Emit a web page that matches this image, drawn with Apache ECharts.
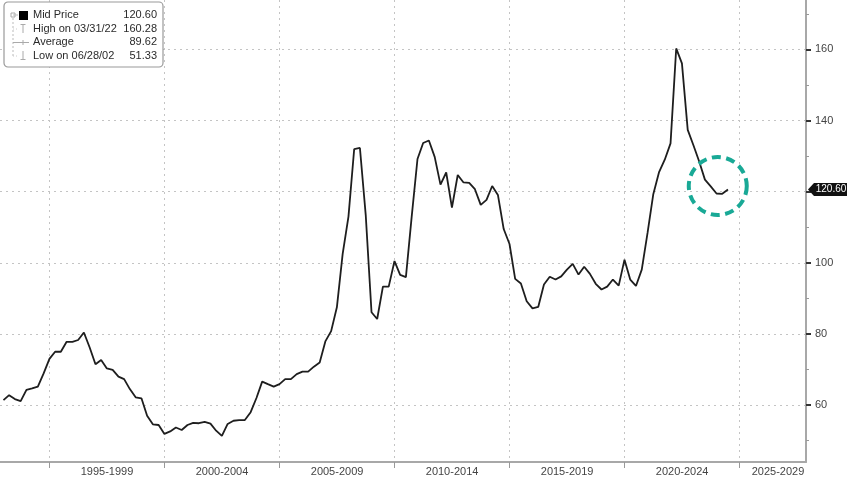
<!DOCTYPE html>
<html><head><meta charset="utf-8">
<script src="https://cdn.jsdelivr.net/npm/echarts@6/dist/echarts.min.js"></script>
<style>html,body{margin:0;padding:0;background:#fff}#c{width:848px;height:478px}</style>
</head><body><div id="c"></div>
<script>
// ---- data ----
// quarterly mid price, first point = quarter ending 1992-12-31
const firstYear = 1992, firstQuarter = 4;
const quarterEnds = [[3,31],[6,30],[9,30],[12,31]];
const midPrice = [
  61.4,62.8,61.7,61.1,64.3,64.7,65.2,68.9,73.0,75.0,
  75.0,77.8,77.8,78.3,80.4,76.2,71.5,72.7,70.3,69.9,
  68.0,67.3,64.5,62.2,61.9,57.0,54.6,54.4,51.9,52.6,
  53.7,53.0,54.4,55.0,54.9,55.3,54.8,52.8,51.33,54.7,
  55.6,55.8,55.8,58.0,62.0,66.6,65.9,65.2,65.9,67.3,
  67.3,68.7,69.4,69.4,70.8,72.0,78.0,80.8,87.5,102.5,
  113.0,132.0,132.3,113.5,86.1,84.2,93.3,93.3,100.5,96.6,
  96.0,113.0,129.2,133.7,134.4,129.8,122.0,125.4,115.5,124.7,
  122.6,122.5,120.7,116.3,117.7,121.6,119.1,109.5,105.3,95.5,
  94.2,89.2,87.2,87.6,93.9,96.1,95.3,96.2,98.1,99.7,
  96.7,98.9,96.9,94.1,92.5,93.3,95.3,93.6,100.9,95.3,
  93.5,98.1,108.4,119.2,125.4,129.0,133.6,160.28,156.1,137.4,
  133.0,128.5,123.4,121.5,119.5,119.4,120.6
];
const periodStarts = [1995,2000,2005,2010,2015,2020,2025];
const yTicks = [60,80,100,120,140,160];
const yMinorTicks = [50,70,90,110,130,150,170];
const legendNames = ['Mid Price','High on 03/31/22','Average','Low on 06/28/02'];
const legendValues = ['120.60','160.28','89.62','51.33'];
const lastLabel = '120.60';
const highlightCenter = ['2024-01-20', 121.6];

// ---- build ----
const data = midPrice.map((v, i) => {
  const k = (firstQuarter - 1) + i;
  const y = firstYear + Math.floor(k / 4);
  const q = quarterEnds[k % 4];
  return [Date.UTC(y, q[0] - 1, q[1]), v];
});
const T = y => Date.UTC(y, 0, 1);
const msPerPx = (T(2000) - T(1995)) / 115;
const xMin = T(1995) - 49.5 * msPerPx;
const xMax = xMin + 806 * msPerPx;
const tickVals = periodStarts.map(T);
const labelVals = periodStarts.map(s => Math.min((T(s) + T(s + 5)) / 2, xMax - 28 * msPerPx));
const fontFam = "'Liberation Sans', Arial, sans-serif";
const yearOf = v => { const d = new Date(v); return d.getUTCFullYear() + d.getUTCMonth() / 12; };
const Y_MIN = 44.0, Y_MAX = 173.9;

const chart = echarts.init(document.getElementById('c'), null, {renderer: 'canvas'});
chart.setOption({
  backgroundColor: '#fff',
  animation: false,
  grid: {left: 0, right: 42, top: 0, bottom: 16, containLabel: false},
  xAxis: {
    type: 'value', min: xMin, max: xMax,
    axisLine: {show: true, lineStyle: {color: '#a8a8a8', width: 2}},
    axisTick: {show: true, customValues: tickVals, length: 6, lineStyle: {color: '#999'}},
    axisLabel: {
      customValues: labelVals, color: '#444', fontSize: 11, fontFamily: fontFam, margin: 4,
      formatter: v => { const y = yearOf(v); const s = periodStarts.filter(p => p <= y).pop(); return s + '-' + (s + 4); }
    },
    splitLine: {show: true, lineStyle: {color: '#c4c4c4', width: 1, type: [2, 4]}}
  },
  yAxis: [{
    type: 'value', position: 'right', min: Y_MIN, max: Y_MAX,
    axisLine: {show: true, lineStyle: {color: '#a8a8a8', width: 2}},
    axisTick: {show: true, customValues: yTicks, length: 5, lineStyle: {color: '#333', width: 2}},
    axisLabel: {customValues: yTicks, color: '#444', fontSize: 11, fontFamily: fontFam, margin: 9},
    splitLine: {show: true, lineStyle: {color: '#c4c4c4', width: 1, type: [2, 4]}}
  }, {
    type: 'value', position: 'right', min: Y_MIN, max: Y_MAX,
    axisLine: {show: false},
    axisTick: {show: true, customValues: yMinorTicks, length: 3, lineStyle: {color: '#999', width: 1}},
    axisLabel: {show: false},
    splitLine: {show: false}
  }],
  series: [{
    type: 'line', data: data, showSymbol: false, z: 3,
    lineStyle: {color: '#1e1e1e', width: 1.8}
  }]
});

// ---- annotations ----
const lastY = chart.convertToPixel({yAxisIndex: 0}, midPrice[midPrice.length - 1]);
const c = chart.convertToPixel({seriesIndex: 0}, [new Date(highlightCenter[0] + 'T00:00:00Z').getTime(), highlightCenter[1]]);
const rowY = [15, 28.5, 42, 55.5];
const legendEls = [
  {type: 'rect', shape: {x: 4, y: 2, width: 159, height: 65, r: 4}, style: {fill: '#fff', stroke: '#9a9a9a', lineWidth: 1.2}},
  {type: 'rect', shape: {x: 11, y: 13, width: 4, height: 4}, style: {fill: '#fff', stroke: '#aaa', lineWidth: 1}},
  {type: 'line', shape: {x1: 13, y1: 18, x2: 13, y2: 57}, style: {stroke: '#bbb', lineWidth: 1, lineDash: [2, 2]}},
  {type: 'line', shape: {x1: 13, y1: 15, x2: 18, y2: 15}, style: {stroke: '#bbb', lineWidth: 1}},
  {type: 'rect', shape: {x: 19, y: 11, width: 9, height: 9}, style: {fill: '#000'}},
  {type: 'line', shape: {x1: 13, y1: 29, x2: 18, y2: 29}, style: {stroke: '#ccc', lineWidth: 1, lineDash: [1, 2]}},
  {type: 'line', shape: {x1: 20.5, y1: 24.5, x2: 25.5, y2: 24.5}, style: {stroke: '#aaa', lineWidth: 1}},
  {type: 'line', shape: {x1: 23, y1: 24.5, x2: 23, y2: 33}, style: {stroke: '#aaa', lineWidth: 1}},
  {type: 'line', shape: {x1: 13, y1: 42.5, x2: 29, y2: 42.5}, style: {stroke: '#aaa', lineWidth: 1}},
  {type: 'line', shape: {x1: 23, y1: 40, x2: 23, y2: 45}, style: {stroke: '#aaa', lineWidth: 1}},
  {type: 'line', shape: {x1: 13, y1: 56, x2: 18, y2: 56}, style: {stroke: '#ccc', lineWidth: 1, lineDash: [1, 2]}},
  {type: 'line', shape: {x1: 23, y1: 51, x2: 23, y2: 59.5}, style: {stroke: '#aaa', lineWidth: 1}},
  {type: 'line', shape: {x1: 20.5, y1: 59.5, x2: 25.5, y2: 59.5}, style: {stroke: '#aaa', lineWidth: 1}}
];
legendNames.forEach((n, i) => {
  legendEls.push({type: 'text', x: 33, y: rowY[i], style: {text: n, fill: '#2a2a2a', font: '11px ' + fontFam, textVerticalAlign: 'middle', textAlign: 'left'}});
  legendEls.push({type: 'text', x: 157, y: rowY[i], style: {text: legendValues[i], fill: '#2a2a2a', font: '11px ' + fontFam, textVerticalAlign: 'middle', textAlign: 'right'}});
});

chart.setOption({
  graphic: [
    {type: 'group', z: 100, children: legendEls},
    {type: 'circle', z: 90, shape: {cx: c[0], cy: c[1], r: 29}, style: {fill: 'none', stroke: '#19a996', lineWidth: 4, lineDash: [9, 5.5]}},
    {type: 'polygon', z: 95, shape: {points: [[808, lastY], [814, lastY - 6.5], [847, lastY - 6.5], [847, lastY + 6.5], [814, lastY + 6.5]]}, style: {fill: '#111'}},
    {type: 'text', z: 96, x: 831, y: lastY, style: {text: lastLabel, fill: '#fff', font: '10px ' + fontFam, textAlign: 'center', textVerticalAlign: 'middle'}}
  ]
});
</script></body></html>
